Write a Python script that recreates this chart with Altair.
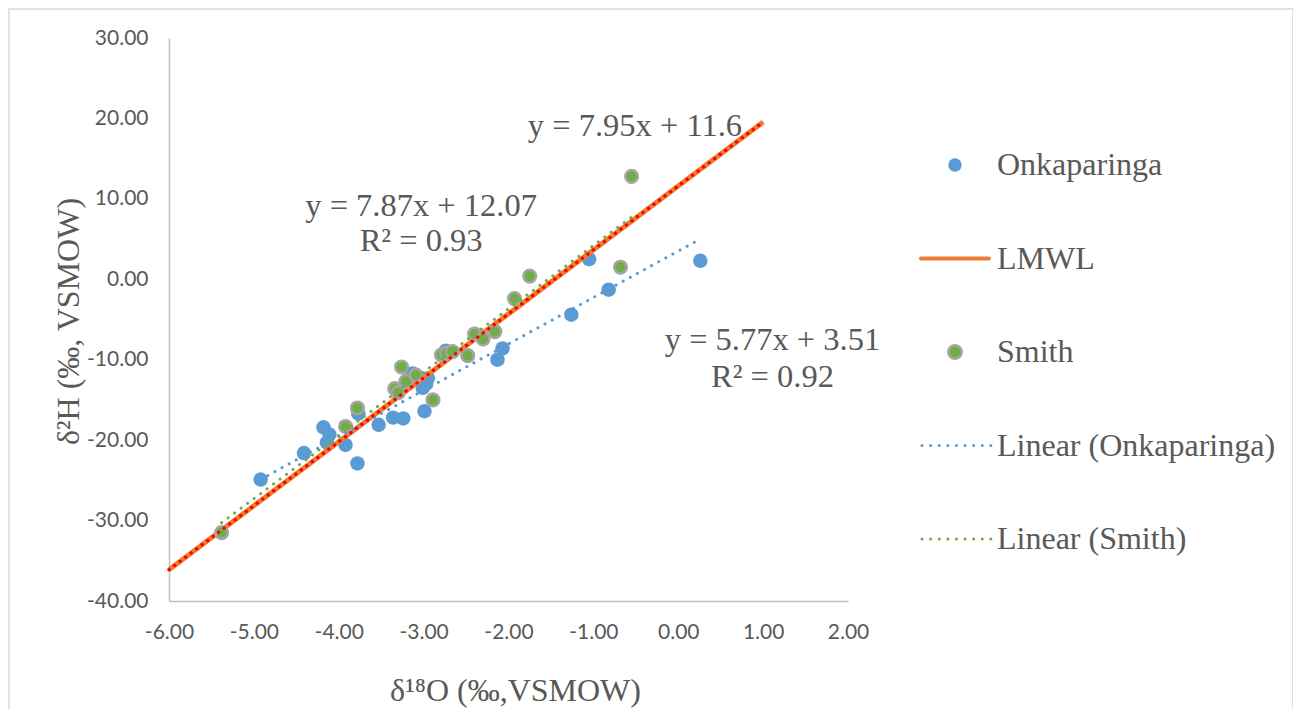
import altair as alt
import pandas as pd

# ---- data ----
onk_x = [-4.92, -4.41, -4.18, -4.11, -4.14, -3.92, -3.78, -3.77, -3.53, -3.36, -3.24, -2.99,
         -3.13, -2.97, -3.01, -2.95, -2.74, -2.07, -2.13, -1.26, -0.82, -1.05, 0.26]
onk_y = [-24.9, -21.6, -18.4, -19.3, -20.3, -20.6, -22.9, -16.7, -18.1, -17.2, -17.3, -16.4,
         -11.7, -13.0, -13.5, -12.3, -8.9, -8.6, -10.0, -4.4, -1.3, 2.5, 2.3]

smith_x = [-5.38, -3.92, -3.78, -3.26, -3.34, -3.30, -3.21, -3.09, -2.89, -2.79, -2.73,
           -2.66, -2.48, -2.40, -2.30, -2.16, -1.93, -1.75, -0.68, -0.55]
smith_y = [-31.5, -18.3, -16.0, -10.9, -13.6, -14.1, -12.7, -11.9, -15.0, -9.4, -9.2,
           -9.0, -9.5, -6.8, -7.4, -6.5, -2.4, 0.4, 1.5, 12.8]

lmwl_x = [-6.0, 1.0]
lmwl_y = [-36.1, 19.55]
onk_fit_x = [-4.92, 0.25]
onk_fit_y = [-24.88, 4.95]
smith_fit_x = [-5.38, -0.55]
smith_fit_y = [-30.27, 7.74]

ann_text = ["y = 7.95x + 11.6", "y = 7.87x + 12.07", "R² = 0.93", "y = 5.77x + 3.51", "R² = 0.92"]
ann_x = [-0.51, -3.03, -3.03, 1.11, 1.11]
ann_y = [19.1, 9.1, 4.75, -7.5, -12.1]

x_ticks = [-6, -5, -4, -3, -2, -1, 0, 1, 2]
y_ticks = [-40, -30, -20, -10, 0, 10, 20, 30]

legend_labels = ["Onkaparinga", "LMWL", "Smith", "Linear (Onkaparinga)", "Linear (Smith)"]
legend_kind = ["point", "solid", "point", "dotted", "dotted"]
legend_color = ["#5B9BD5", "#ED7D31", "#70AD47", "#5B9BD5", "#70AD47"]
legend_stroke = ["#5B9BD5", "#ED7D31", "#A5A5A5", "#5B9BD5", "#70AD47"]

BLUE = "#5B9BD5"
GREEN = "#70AD47"
ORANGE = "#ED7D31"
TXT = "#595959"
SERIF = "Liberation Serif"
SANS = "Lato"

onk = pd.DataFrame({"x": onk_x, "y": onk_y})
smith = pd.DataFrame({"x": smith_x, "y": smith_y})
lmwl = pd.DataFrame({"x": lmwl_x, "y": lmwl_y})
onk_fit = pd.DataFrame({"x": onk_fit_x, "y": onk_fit_y})
smith_fit = pd.DataFrame({"x": smith_fit_x, "y": smith_fit_y})
ann = pd.DataFrame({"x": ann_x, "y": ann_y, "t": ann_text})

xs = alt.Scale(domain=[-6, 2], nice=False, zero=False)
ys = alt.Scale(domain=[-40, 30], nice=False, zero=False)

lbl = "(datum.value < 0 ? '-' : '') + format(abs(datum.value), '.2f')"

x_axis = alt.Axis(values=x_ticks, labelExpr=lbl, grid=False, ticks=False, tickSize=0,
                  labelFont=SANS, labelFontSize=21, labelColor=TXT, labelPadding=20,
                  labelFlush=False, labelOverlap=False,
                  domainColor="#BFBFBF", domainWidth=1.5,
                  title="δ¹⁸O (‰,VSMOW)", titleFont=SERIF, titleFontSize=32,
                  titleFontWeight="normal", titleColor=TXT, titleX=346, titleY=89,
                  titleAlign="center", titleBaseline="middle")
y_axis = alt.Axis(values=y_ticks, labelExpr=lbl, grid=False, ticks=False, tickSize=0,
                  labelFont=SANS, labelFontSize=21, labelColor=TXT, labelPadding=21,
                  labelFlush=False, labelOverlap=False,
                  domainColor="#BFBFBF", domainWidth=1.5,
                  title="δ²H (‰, VSMOW)", titleFont=SERIF, titleFontSize=32,
                  titleFontWeight="normal", titleColor=TXT, titleX=-101, titleY=283,
                  titleAngle=-90, titleAlign="center", titleBaseline="middle")


def X():
    return alt.X("x:Q", scale=xs, axis=x_axis)


def Y():
    return alt.Y("y:Q", scale=ys, axis=y_axis)


one = alt.Data(values=[{"a": 1}])

frame = alt.Chart(one).mark_rect(
    filled=False, stroke="#D9D9D9", strokeWidth=1.5).encode(
    x=alt.value(-160), x2=alt.value(1124), y=alt.value(-29), y2=alt.value(720))

p_onk = alt.Chart(onk).mark_circle(size=210, color=BLUE, opacity=1).encode(x=X(), y=Y())
l_lmwl = alt.Chart(lmwl).mark_line(color=ORANGE, strokeWidth=5).encode(x=X(), y=Y())
p_smith = alt.Chart(smith).mark_circle(size=160, fill=GREEN, stroke="#A5A5A5", strokeWidth=2.5,
                                       opacity=1).encode(x=X(), y=Y())
l_onk = alt.Chart(onk_fit).mark_line(color=BLUE, strokeWidth=3, strokeDash=[0.1, 8],
                                     strokeCap="round").encode(x=X(), y=Y())
l_red = alt.Chart(lmwl).mark_line(color="#FF0000", strokeWidth=3.4, strokeDash=[0.1, 6.8],
                                  strokeCap="round").encode(x=X(), y=Y())
l_smith = alt.Chart(smith_fit).mark_line(color=GREEN, strokeWidth=3, strokeDash=[0.1, 8],
                                         strokeCap="round").encode(x=X(), y=Y())
t_ann = alt.Chart(ann).mark_text(font=SERIF, fontSize=32.5, color=TXT, align="center",
                                 baseline="middle").encode(x=X(), y=Y(), text="t:N")

layers = [frame, p_onk, l_lmwl, p_smith, l_onk, l_red, l_smith, t_ann]

# ---- legend (drawn manually, one entry per layer) ----
for i, (lab, kind, col, stk) in enumerate(zip(legend_labels, legend_kind, legend_color, legend_stroke)):
    ypix = 127 + i * 93.5
    if kind == "point":
        sym = alt.Chart(one).mark_circle(size=180, opacity=1, fill=col, stroke=stk,
                                         strokeWidth=2.5 if stk != col else 0).encode(
            x=alt.value(786), y=alt.value(ypix))
    elif kind == "solid":
        sym = alt.Chart(one).mark_rule(strokeWidth=4, strokeCap="round", color=col).encode(
            x=alt.value(752), x2=alt.value(820), y=alt.value(ypix))
    else:
        sym = alt.Chart(one).mark_rule(strokeWidth=3, strokeDash=[0.1, 8.5], strokeCap="round",
                                       color=col).encode(
            x=alt.value(753), x2=alt.value(822), y=alt.value(ypix))
    txt = alt.Chart(one).mark_text(font=SERIF, fontSize=32, color=TXT, align="left",
                                   baseline="middle", text=lab).encode(
        x=alt.value(828), y=alt.value(ypix))
    layers += [sym, txt]

chart = alt.layer(*layers).properties(
    width=679, height=563,
    autosize=alt.AutoSizeParams(type="none"),
    padding={"left": 161, "top": 30, "right": 445, "bottom": 108},
    background="white",
).configure_view(stroke=None)

chart.save("out.html", embed_options={"renderer": "svg", "actions": False})
